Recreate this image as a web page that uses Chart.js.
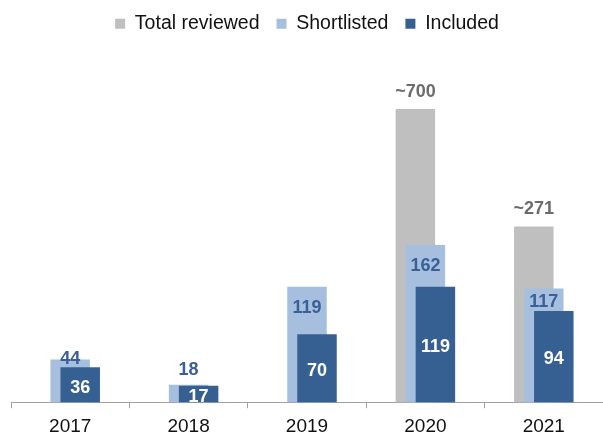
<!DOCTYPE html>
<html>
<head>
<meta charset="utf-8">
<script src="https://cdn.jsdelivr.net/npm/chart.js@4/dist/chart.umd.min.js"></script>
<style>
  html, body { margin: 0; padding: 0; background: #ffffff; }
  #wrap { width: 603px; height: 439px; position: relative; }
</style>
</head>
<body>
<div id="wrap"><canvas id="c" width="603" height="439"></canvas></div>
<script>
// ---- data ----
const years = ['2017', '2018', '2019', '2020', '2021'];
// "Total reviewed" values as annotated (approximate) in the reference
const totalReviewed = [null, null, null, 700, 271];
// The reference draws the total bars not to scale (axis is broken);
// these are their drawn heights in the same units as the other bars.
const totalReviewedDrawn = [null, null, null, 302, 181];
const shortlisted = [44, 18, 119, 162, 117];
const included = [36, 17, 70, 119, 94];

const COLORS = {
  total: '#bfbfbf',
  short: '#a7bfdf',
  incl: '#376092',
  totalLabel: '#6b6b6b',
  shortLabel: '#3a6096'
};

const FONT = "'Liberation Sans', Arial, Helvetica, sans-serif";

// draw datasets in natural order (grey behind, dark blue in front), then labels
const layerAndLabels = {
  id: 'layerAndLabels',
  beforeDatasetDraw() { return false; },
  afterDatasetsDraw(chart) {
    const ctx = chart.ctx;
    const metas = chart.getSortedVisibleDatasetMetas();
    metas.forEach(m => m.controller.draw());

    const mTot = chart.getDatasetMeta(0);
    const mShort = chart.getDatasetMeta(1);
    const mIncl = chart.getDatasetMeta(2);
    ctx.save();
    ctx.textAlign = 'center';
    ctx.textBaseline = 'alphabetic';
    ctx.font = "bold 18px " + FONT;
    const half = 6.4;
    years.forEach((y, i) => {
      if (totalReviewed[i] != null) {
        const b = mTot.data[i];
        ctx.fillStyle = COLORS.totalLabel;
        ctx.fillText('~' + totalReviewed[i], b.x, b.y - 12);
      }
      const s = mShort.data[i];
      const d = mIncl.data[i];
      const sh = s.base - s.y;
      let cy = Math.min(s.y + 20, d.y - 10);
      if (sh < 25) cy = s.y - 16;
      ctx.fillStyle = COLORS.shortLabel;
      ctx.fillText(String(shortlisted[i]), s.x, cy + half);
      ctx.fillStyle = '#ffffff';
      const mid = (d.y + d.base) / 2 + 1.5;
      ctx.fillText(String(included[i]), d.x, mid + half);
    });
    ctx.restore();
  }
};

const common = { categoryPercentage: 0.2534, barPercentage: 3.95, borderWidth: 0 };

new Chart(document.getElementById('c'), {
  type: 'bar',
  data: {
    labels: years,
    datasets: [
      Object.assign({ label: 'Total reviewed', data: totalReviewedDrawn, backgroundColor: COLORS.total }, common),
      Object.assign({ label: 'Shortlisted', data: shortlisted, backgroundColor: COLORS.short }, common),
      Object.assign({ label: 'Included', data: included, backgroundColor: COLORS.incl }, common)
    ]
  },
  options: {
    responsive: false,
    animation: false,
    devicePixelRatio: 1,
    layout: { padding: { top: -3, left: 11, right: 0, bottom: -6 } },
    plugins: {
      legend: {
        position: 'top',
        labels: {
          boxWidth: 10,
          boxHeight: 10,
          padding: 17,
          color: '#111111',
          font: { family: FONT, size: 19.5 }
        }
      },
      tooltip: { enabled: false }
    },
    scales: {
      x: {
        offset: true,
        grid: { display: true, drawOnChartArea: false, drawTicks: true, tickLength: 6, color: '#a0a0a0', offset: true },
        border: { display: true, color: '#a0a0a0', width: 1 },
        ticks: { color: '#111111', padding: 7, font: { family: FONT, size: 19 } }
      },
      y: {
        display: false,
        min: 0,
        max: 369.5
      }
    }
  },
  plugins: [layerAndLabels]
});
</script>
</body>
</html>
